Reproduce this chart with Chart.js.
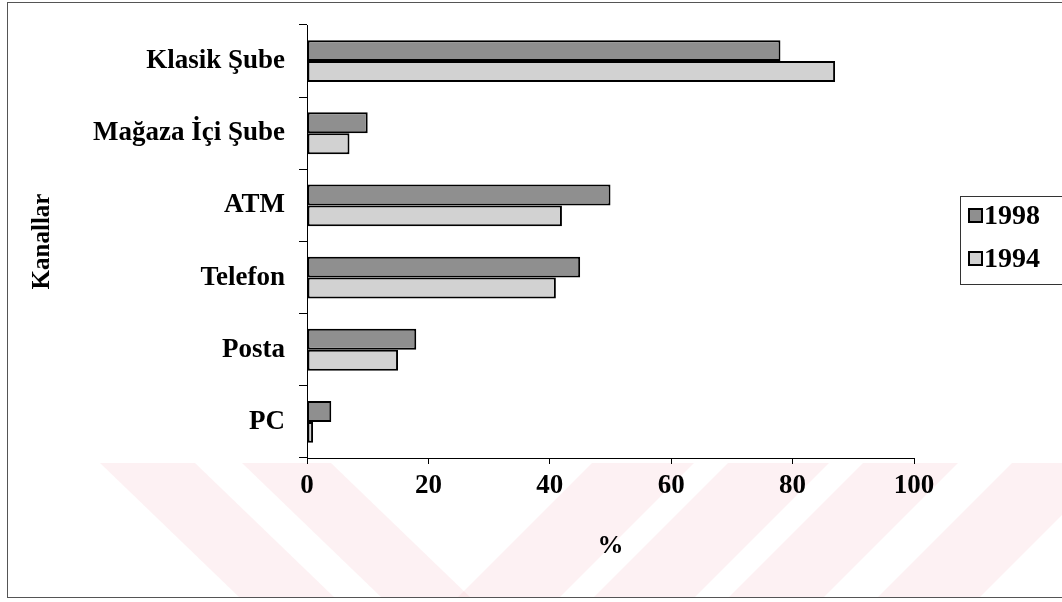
<!DOCTYPE html>
<html>
<head>
<meta charset="utf-8">
<script src="https://cdn.jsdelivr.net/npm/chart.js@4"></script>
<style>
  html, body { margin: 0; padding: 0; background: #fff; }
  #wrap { position: relative; width: 1062px; height: 602px; }
</style>
</head>
<body>
<div id="wrap"><canvas id="c" width="1062" height="602"></canvas></div>
<script>
const categories = ['Klasik Şube', 'Mağaza İçi Şube', 'ATM', 'Telefon', 'Posta', 'PC'];
const values1998 = [78, 10, 50, 45, 18, 4];
const values1994 = [87, 7, 42, 41, 15, 1];
const seriesLabels = ['1998', '1994'];
const xTicks = [0, 20, 40, 60, 80, 100];

const FONT = "'Liberation Serif', 'Times New Roman', serif";

const backgroundPlugin = {
  id: 'bgDecor',
  beforeDraw(chart) {
    const ctx = chart.ctx;
    ctx.save();
    ctx.fillStyle = '#ffffff';
    ctx.fillRect(0, 0, chart.width, chart.height);
    // faint watermark stripes
    ctx.fillStyle = 'rgba(245, 190, 200, 0.22)';
    const stripes = [
      [[100,463],[195,463],[334,597],[239,597]],
      [[242,463],[331,463],[470,597],[381,597]],
      [[592,463],[694,463],[560,597],[458,597]],
      [[728,463],[829,463],[695,597],[594,597]],
      [[863,463],[958,463],[824,597],[729,597]],
      [[1012,463],[1114,463],[980,597],[878,597]]
    ];
    stripes.forEach(p => {
      ctx.beginPath();
      ctx.moveTo(p[0][0], p[0][1]);
      for (let i = 1; i < p.length; i++) ctx.lineTo(p[i][0], p[i][1]);
      ctx.closePath();
      ctx.fill();
    });
    ctx.restore();
  },
  afterDraw(chart) {
    const ctx = chart.ctx;
    ctx.save();
    // outer frame
    ctx.strokeStyle = '#555';
    ctx.lineWidth = 1;
    ctx.strokeRect(7.5, 2.5, 1060, 595);
    // legend
    ctx.strokeStyle = '#333';
    ctx.strokeRect(960.5, 196.5, 110, 88);
    const ys = [216, 259];
    chart.data.datasets.forEach((ds, i) => {
      const y = ys[i];
      ctx.fillStyle = ds.backgroundColor;
      ctx.fillRect(969, y - 7, 13, 13);
      ctx.strokeStyle = '#000';
      ctx.lineWidth = 2;
      ctx.strokeRect(969, y - 7, 13, 13);
      ctx.fillStyle = '#000';
      ctx.font = 'bold 28px ' + FONT;
      ctx.textBaseline = 'middle';
      ctx.textAlign = 'left';
      ctx.fillText(ds.label, 984, y + 1);
    });
    ctx.restore();
  }
};

new Chart(document.getElementById('c'), {
  type: 'bar',
  data: {
    labels: categories,
    datasets: [
      { label: seriesLabels[0], data: values1998, backgroundColor: '#8f8f8f', borderColor: '#000', borderWidth: 2, borderSkipped: false },
      { label: seriesLabels[1], data: values1994, backgroundColor: '#d2d2d2', borderColor: '#000', borderWidth: 2, borderSkipped: false }
    ]
  },
  plugins: [backgroundPlugin],
  options: {
    indexAxis: 'y',
    responsive: false,
    animation: false,
    devicePixelRatio: 1,
    layout: { padding: { left: 28, top: 25, right: 148, bottom: 40 } },
    categoryPercentage: 0.58,
    barPercentage: 1.0,
    plugins: { legend: { display: false }, tooltip: { enabled: false } },
    scales: {
      x: {
        min: 0, max: 100,
        afterFit(s) { s.height = 602 - 458 - 40; s.paddingLeft = 0; s.paddingRight = 0; },
        afterBuildTicks(s) { s.ticks = xTicks.map(v => ({ value: v })); },
        border: { color: '#000', width: 1 },
        grid: { drawOnChartArea: false, tickLength: 6, color: '#000' },
        ticks: { color: '#000', padding: 6, font: { family: FONT, size: 27, weight: 'bold' } },
        title: { display: true, text: '%', color: '#000', font: { family: FONT, size: 26, weight: 'bold' }, padding: { top: 0, bottom: 0 } }
      },
      y: {
        afterFit(s) { s.width = 307 - 28; s.paddingTop = 0; s.paddingBottom = 0; },
        border: { color: '#000', width: 1 },
        grid: { drawOnChartArea: false, tickLength: 8, color: '#000', offset: true },
        ticks: { color: '#000', padding: 14, font: { family: FONT, size: 27, weight: 'bold' } },
        title: { display: true, text: 'Kanallar', color: '#000', font: { family: FONT, size: 25, weight: 'bold' }, padding: { top: 0, bottom: 0 } }
      }
    }
  }
});
</script>
</body>
</html>
